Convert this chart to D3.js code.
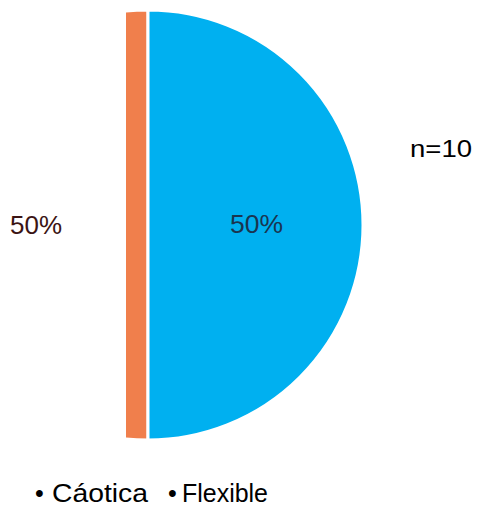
<!DOCTYPE html>
<html><head><meta charset="utf-8">
<script src="https://cdn.jsdelivr.net/npm/d3@7"></script>
<style>html,body{margin:0;padding:0;background:#fff;}</style>
</head><body>
<svg id="chart" width="477" height="506"></svg>
<script>
const categories = ["Cáotica", "Flexible"];
const values = [50, 50];
const colors = ["#F07F4C", "#00B0F0"];
const labelColors = ["#3B1414", "#1A3550"];
const note = "n=10";

const svg = d3.select("#chart");
const cx = 148, cy = 225, r = 215;
const FONT = "Liberation Sans, Arial, sans-serif";

svg.append("defs").append("clipPath").attr("id", "clip")
  .append("rect").attr("x", 126).attr("y", 0).attr("width", 400).attr("height", 506);

const pie = d3.pie().sort(null).startAngle(-Math.PI).endAngle(Math.PI);
const arcs = pie(values);
const arc = d3.arc().innerRadius(0).outerRadius(r);
const color = d3.scaleOrdinal().domain(categories).range(colors);

svg.append("g").attr("clip-path", "url(#clip)")
  .append("g").attr("transform", `translate(${cx},${cy})`)
  .selectAll("path").data(arcs).join("path")
  .attr("d", arc)
  .attr("fill", (d, i) => color(categories[i]))
  .attr("stroke", "#fff").attr("stroke-width", 3);

const fmt = v => Math.round(v / d3.sum(values) * 100) + "%";
// labels
svg.append("text").attr("x", 10).attr("y", 234)
  .attr("font-family", FONT).attr("font-size", 25)
  .attr("textLength", 52).attr("lengthAdjust", "spacingAndGlyphs")
  .attr("fill", labelColors[0]).text(fmt(values[0]));
svg.append("text").attr("x", 230).attr("y", 233)
  .attr("font-family", FONT).attr("font-size", 25)
  .attr("textLength", 53).attr("lengthAdjust", "spacingAndGlyphs")
  .attr("fill", labelColors[1]).text(fmt(values[1]));

svg.append("text").attr("x", 410).attr("y", 157)
  .attr("font-family", FONT).attr("font-size", 24)
  .attr("textLength", 62).attr("lengthAdjust", "spacingAndGlyphs")
  .attr("fill", "#000").text(note);

// legend
const bulletX = [35, 168];
const labelX = [52, 182];
const labelW = [96, 86];
const leg = svg.append("g").attr("font-family", FONT)
  .attr("font-size", 25).attr("fill", "#000");
categories.forEach((c, i) => {
  leg.append("text").attr("x", bulletX[i]).attr("y", 502).text("\u2022");
  leg.append("text").attr("x", labelX[i]).attr("y", 502)
    .attr("textLength", labelW[i]).attr("lengthAdjust", "spacingAndGlyphs").text(c);
});
</script>
</body></html>
